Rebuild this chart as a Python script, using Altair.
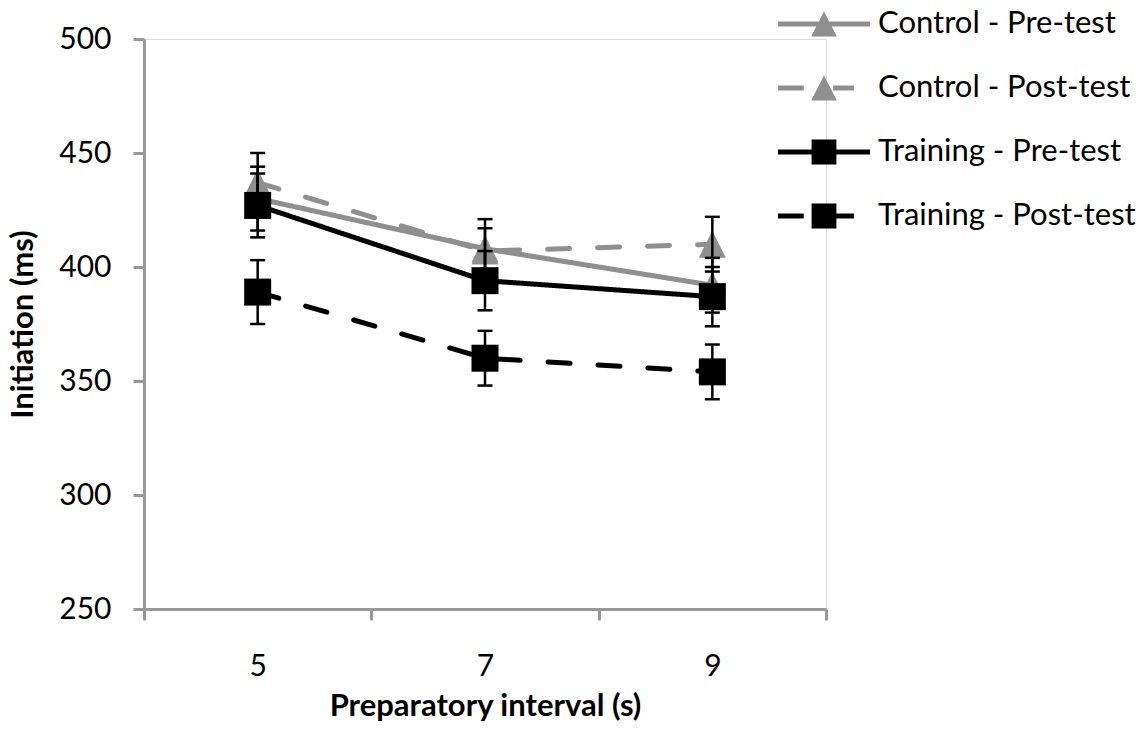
import altair as alt
import pandas as pd

intervals = ["5", "7", "9"]
series_names = ["Control - Pre-test", "Control - Post-test", "Training - Pre-test", "Training - Post-test"]
means = {
    "Control - Pre-test": [430, 408, 392],
    "Control - Post-test": [437, 407, 410],
    "Training - Pre-test": [427, 394, 387],
    "Training - Post-test": [389, 360, 354],
}
errors = {
    "Control - Pre-test": [14, 13, 12],
    "Control - Post-test": [13, 10, 12],
    "Training - Pre-test": [14, 13, 13],
    "Training - Post-test": [14, 12, 12],
}
group = {"Control - Pre-test": "Control", "Control - Post-test": "Control",
         "Training - Pre-test": "Training", "Training - Post-test": "Training"}

rows = []
for s in series_names:
    for i, iv in enumerate(intervals):
        m, e = means[s][i], errors[s][i]
        rows.append({"interval": iv, "series": s, "group": group[s],
                     "mean": m, "lo": m - e, "hi": m + e})
df = pd.DataFrame(rows)

GRAY = "#8f8f8f"
AXIS_GRAY = "#989898"
colors = [GRAY, GRAY, "#000000", "#000000"]
dashes = [[1, 0], [22, 28], [1, 0], [22, 28]]

# plot layers use the reversed domain order (same mapping) so that their
# hidden legends are not merged with the visible legend below
rev_names = series_names[::-1]
rev_colors = colors[::-1]
rev_dashes = dashes[::-1]

FONT = "Lato"

x_enc = alt.X("interval:O", sort=intervals, bandPosition=0.5,
              scale=alt.Scale(type="band", paddingInner=0, paddingOuter=0),
              axis=alt.Axis(title="Preparatory interval (s)", tickBand="extent",
                            labelAngle=0, labelFontSize=30, labelFont=FONT, labelColor="#000",
                            labelPadding=31, titleFontSize=31, titleFont=FONT,
                            titleFontWeight="bold", titleColor="#000", titlePadding=10,
                            domainColor=AXIS_GRAY, domainWidth=3, tickColor=AXIS_GRAY,
                            tickWidth=3, tickSize=11))
y_scale = alt.Scale(domain=[250, 500], nice=False, zero=False)
y_enc = alt.Y("mean:Q", scale=y_scale,
              axis=alt.Axis(title="Initiation (ms)", values=[250, 300, 350, 400, 450, 500],
                            grid=False, labelFontSize=30, labelFont=FONT, labelColor="#000",
                            labelPadding=22, titleFontSize=31, titleFont=FONT,
                            titleFontWeight="bold", titleColor="#000", titlePadding=19,
                            domainColor=AXIS_GRAY, domainWidth=3, tickColor=AXIS_GRAY,
                            tickWidth=3, tickSize=11))

base = alt.Chart(df)

lines = base.mark_line(strokeWidth=5, strokeCap="round", strokeJoin="round").encode(
    x=x_enc, y=y_enc,
    stroke=alt.Stroke("series:N", scale=alt.Scale(domain=rev_names, range=rev_colors), legend=None),
    strokeDash=alt.StrokeDash("series:N", scale=alt.Scale(domain=rev_names, range=rev_dashes), legend=None),
    detail="series:N",
)

tri_path = "M0,-1L1,1L-1,1Z"
triangles = base.transform_filter(alt.datum.group == "Control").mark_point(
    filled=True, opacity=1, shape=tri_path, size=729, strokeWidth=0).encode(
    x=x_enc, y=y_enc,
    fill=alt.Fill("series:N", scale=alt.Scale(domain=rev_names, range=rev_colors), legend=None),
)
squares = base.transform_filter(alt.datum.group == "Training").mark_point(
    filled=True, opacity=1, shape="square", size=729, strokeWidth=0).encode(
    x=x_enc, y=y_enc,
    fill=alt.Fill("series:N", scale=alt.Scale(domain=rev_names, range=rev_colors), legend=None),
)

err_rule = base.mark_rule(color="#000", strokeWidth=2.5).encode(
    x=x_enc, y=alt.Y("lo:Q", scale=y_scale), y2="hi:Q")
cap_lo = base.mark_tick(color="#000", thickness=2.5, size=15, opacity=1).encode(
    x=x_enc, y=alt.Y("lo:Q", scale=y_scale))
cap_hi = base.mark_tick(color="#000", thickness=2.5, size=15, opacity=1).encode(
    x=x_enc, y=alt.Y("hi:Q", scale=y_scale))

# legend symbols: line + marker, in unit box [-1,1] (box = 92px)
h = 0.055
solid_line = f"M-1 {-h} L1 {-h} L1 {h} L-1 {h} Z "
dash_line = f"M-1 {-h} L-0.44 {-h} L-0.44 {h} L-1 {h} Z M0.2 {-h} L0.65 {-h} L0.65 {h} L0.2 {h} Z "
tri_small = "M0 -0.27 L0.28 0.27 L-0.28 0.27 Z"
sq_small = "M-0.27 -0.27 L0.27 -0.27 L0.27 0.27 L-0.27 0.27 Z"
legend_shapes = [solid_line + tri_small, dash_line + tri_small,
                 solid_line + sq_small, dash_line + sq_small]

leg = dict(orient="none", legendX=634, legendY=-61, title=None,
           symbolSize=8464, symbolStrokeWidth=0, symbolOpacity=1,
           labelFontSize=31, labelFont=FONT, labelColor="#000", labelLimit=400,
           labelOffset=8, rowPadding=3, padding=0)

legend_layer = base.mark_point(filled=True, opacity=0).encode(
    x=x_enc, y=y_enc,
    color=alt.Color("series:N", scale=alt.Scale(domain=series_names, range=colors),
                    legend=alt.Legend(**leg)),
    shape=alt.Shape("series:N", scale=alt.Scale(domain=series_names, range=legend_shapes),
                    legend=alt.Legend(**leg)),
)

chart = alt.layer(lines, triangles, squares, err_rule, cap_lo, cap_hi, legend_layer).properties(
    width=682, height=570,
    autosize=alt.AutoSizeParams(type="none"),
    padding={"left": 136, "top": 31, "right": 310, "bottom": 112},
).configure_view(stroke=None).configure(background="#ffffff")

chart.save("out.html", embed_options={"renderer": "svg", "actions": False})
